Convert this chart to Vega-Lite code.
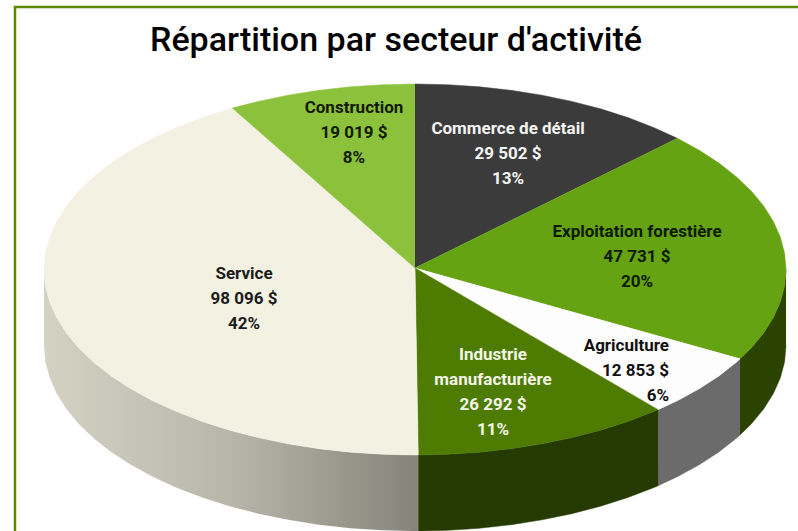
{"$schema":"https://vega.github.io/schema/vega-lite/v6.json","width":798,"height":531,"padding":0,"autosize":{"type":"none"},"background":"white","config":{"view":{"stroke":null}},
"title":{"text":"Répartition par secteur d'activité","font":"Roboto","fontSize":34,"fontWeight":500,"color":"#000000","anchor":"start","frame":"group","dx":150,"dy":85,"baseline":"alphabetic","offset":0},
"datasets":{
"tops":[
{"sector":"Commerce de détail","k":0,"u":0,"v":0.008},{"sector":"Commerce de détail","k":1,"u":0,"v":1},{"sector":"Commerce de détail","k":2,"u":0.0872,"v":0.9962},{"sector":"Commerce de détail","k":3,"u":0.1736,"v":0.9848},{"sector":"Commerce de détail","k":4,"u":0.2588,"v":0.9659},{"sector":"Commerce de détail","k":5,"u":0.342,"v":0.9397},{"sector":"Commerce de détail","k":6,"u":0.4226,"v":0.9063},{"sector":"Commerce de détail","k":7,"u":0.5,"v":0.866},{"sector":"Commerce de détail","k":8,"u":0.5736,"v":0.8192},{"sector":"Commerce de détail","k":9,"u":0.6428,"v":0.766},{"sector":"Commerce de détail","k":10,"u":0.7071,"v":0.7071},
{"sector":"Exploitation forestière","k":0,"u":0,"v":0.008},{"sector":"Exploitation forestière","k":1,"u":0.7071,"v":0.7071},{"sector":"Exploitation forestière","k":2,"u":0.766,"v":0.6428},{"sector":"Exploitation forestière","k":3,"u":0.8192,"v":0.5736},{"sector":"Exploitation forestière","k":4,"u":0.866,"v":0.5},{"sector":"Exploitation forestière","k":5,"u":0.9063,"v":0.4226},{"sector":"Exploitation forestière","k":6,"u":0.9397,"v":0.342},{"sector":"Exploitation forestière","k":7,"u":0.9659,"v":0.2588},{"sector":"Exploitation forestière","k":8,"u":0.9848,"v":0.1736},{"sector":"Exploitation forestière","k":9,"u":0.9962,"v":0.0872},{"sector":"Exploitation forestière","k":10,"u":1,"v":0},{"sector":"Exploitation forestière","k":11,"u":0.9962,"v":-0.0872},{"sector":"Exploitation forestière","k":12,"u":0.9848,"v":-0.1736},{"sector":"Exploitation forestière","k":13,"u":0.9659,"v":-0.2588},{"sector":"Exploitation forestière","k":14,"u":0.9397,"v":-0.342},{"sector":"Exploitation forestière","k":15,"u":0.9063,"v":-0.4226},{"sector":"Exploitation forestière","k":16,"u":0.876,"v":-0.4818},
{"sector":"Agriculture","k":0,"u":0,"v":0.008},{"sector":"Agriculture","k":1,"u":0.876,"v":-0.4818},{"sector":"Agriculture","k":2,"u":0.866,"v":-0.5},{"sector":"Agriculture","k":3,"u":0.8192,"v":-0.5736},{"sector":"Agriculture","k":4,"u":0.766,"v":-0.6428},{"sector":"Agriculture","k":5,"u":0.7071,"v":-0.7071},{"sector":"Agriculture","k":6,"u":0.655,"v":-0.7556},
{"sector":"Industrie manufacturière","k":0,"u":0,"v":0.008},{"sector":"Industrie manufacturière","k":1,"u":0.655,"v":-0.7556},{"sector":"Industrie manufacturière","k":2,"u":0.6428,"v":-0.766},{"sector":"Industrie manufacturière","k":3,"u":0.5736,"v":-0.8192},{"sector":"Industrie manufacturière","k":4,"u":0.5,"v":-0.866},{"sector":"Industrie manufacturière","k":5,"u":0.4226,"v":-0.9063},{"sector":"Industrie manufacturière","k":6,"u":0.342,"v":-0.9397},{"sector":"Industrie manufacturière","k":7,"u":0.2588,"v":-0.9659},{"sector":"Industrie manufacturière","k":8,"u":0.1736,"v":-0.9848},{"sector":"Industrie manufacturière","k":9,"u":0.0872,"v":-0.9962},{"sector":"Industrie manufacturière","k":10,"u":0.0087,"v":-1},
{"sector":"Service","k":0,"u":0,"v":0.008},{"sector":"Service","k":1,"u":0.0087,"v":-1},{"sector":"Service","k":2,"u":0,"v":-1},{"sector":"Service","k":3,"u":-0.0872,"v":-0.9962},{"sector":"Service","k":4,"u":-0.1736,"v":-0.9848},{"sector":"Service","k":5,"u":-0.2588,"v":-0.9659},{"sector":"Service","k":6,"u":-0.342,"v":-0.9397},{"sector":"Service","k":7,"u":-0.4226,"v":-0.9063},{"sector":"Service","k":8,"u":-0.5,"v":-0.866},{"sector":"Service","k":9,"u":-0.5736,"v":-0.8192},{"sector":"Service","k":10,"u":-0.6428,"v":-0.766},{"sector":"Service","k":11,"u":-0.7071,"v":-0.7071},{"sector":"Service","k":12,"u":-0.766,"v":-0.6428},{"sector":"Service","k":13,"u":-0.8192,"v":-0.5736},{"sector":"Service","k":14,"u":-0.866,"v":-0.5},{"sector":"Service","k":15,"u":-0.9063,"v":-0.4226},{"sector":"Service","k":16,"u":-0.9397,"v":-0.342},{"sector":"Service","k":17,"u":-0.9659,"v":-0.2588},{"sector":"Service","k":18,"u":-0.9848,"v":-0.1736},{"sector":"Service","k":19,"u":-0.9962,"v":-0.0872},{"sector":"Service","k":20,"u":-1,"v":0},{"sector":"Service","k":21,"u":-0.9962,"v":0.0872},{"sector":"Service","k":22,"u":-0.9848,"v":0.1736},{"sector":"Service","k":23,"u":-0.9659,"v":0.2588},{"sector":"Service","k":24,"u":-0.9397,"v":0.342},{"sector":"Service","k":25,"u":-0.9063,"v":0.4226},{"sector":"Service","k":26,"u":-0.866,"v":0.5},{"sector":"Service","k":27,"u":-0.8192,"v":0.5736},{"sector":"Service","k":28,"u":-0.766,"v":0.6428},{"sector":"Service","k":29,"u":-0.7071,"v":0.7071},{"sector":"Service","k":30,"u":-0.6428,"v":0.766},{"sector":"Service","k":31,"u":-0.5736,"v":0.8192},{"sector":"Service","k":32,"u":-0.5,"v":0.866},{"sector":"Service","k":33,"u":-0.4924,"v":0.8704},
{"sector":"Construction","k":0,"u":0,"v":0.008},{"sector":"Construction","k":1,"u":-0.4924,"v":0.8704},{"sector":"Construction","k":2,"u":-0.4226,"v":0.9063},{"sector":"Construction","k":3,"u":-0.342,"v":0.9397},{"sector":"Construction","k":4,"u":-0.2588,"v":0.9659},{"sector":"Construction","k":5,"u":-0.1736,"v":0.9848},{"sector":"Construction","k":6,"u":-0.0872,"v":0.9962},{"sector":"Construction","k":7,"u":0,"v":1}
],
"sides":[
{"sector":"Exploitation forestière","k":0,"u":1,"v":0},{"sector":"Exploitation forestière","k":1,"u":0.9962,"v":-0.0872},{"sector":"Exploitation forestière","k":2,"u":0.9848,"v":-0.1736},{"sector":"Exploitation forestière","k":3,"u":0.9659,"v":-0.2588},{"sector":"Exploitation forestière","k":4,"u":0.9397,"v":-0.342},{"sector":"Exploitation forestière","k":5,"u":0.9063,"v":-0.4226},{"sector":"Exploitation forestière","k":6,"u":0.876,"v":-0.4818},{"sector":"Exploitation forestière","k":7,"u":0.876,"v":-0.8918},{"sector":"Exploitation forestière","k":8,"u":0.9063,"v":-0.8326},{"sector":"Exploitation forestière","k":9,"u":0.9397,"v":-0.752},{"sector":"Exploitation forestière","k":10,"u":0.9659,"v":-0.6688},{"sector":"Exploitation forestière","k":11,"u":0.9848,"v":-0.5836},{"sector":"Exploitation forestière","k":12,"u":0.9962,"v":-0.4972},{"sector":"Exploitation forestière","k":13,"u":1,"v":-0.41},
{"sector":"Agriculture","k":0,"u":0.876,"v":-0.4818},{"sector":"Agriculture","k":1,"u":0.866,"v":-0.5},{"sector":"Agriculture","k":2,"u":0.8192,"v":-0.5736},{"sector":"Agriculture","k":3,"u":0.766,"v":-0.6428},{"sector":"Agriculture","k":4,"u":0.7071,"v":-0.7071},{"sector":"Agriculture","k":5,"u":0.655,"v":-0.7556},{"sector":"Agriculture","k":6,"u":0.655,"v":-1.1656},{"sector":"Agriculture","k":7,"u":0.7071,"v":-1.1171},{"sector":"Agriculture","k":8,"u":0.766,"v":-1.0528},{"sector":"Agriculture","k":9,"u":0.8192,"v":-0.9836},{"sector":"Agriculture","k":10,"u":0.866,"v":-0.91},{"sector":"Agriculture","k":11,"u":0.876,"v":-0.8918},
{"sector":"Industrie manufacturière","k":0,"u":0.655,"v":-0.7556},{"sector":"Industrie manufacturière","k":1,"u":0.6428,"v":-0.766},{"sector":"Industrie manufacturière","k":2,"u":0.5736,"v":-0.8192},{"sector":"Industrie manufacturière","k":3,"u":0.5,"v":-0.866},{"sector":"Industrie manufacturière","k":4,"u":0.4226,"v":-0.9063},{"sector":"Industrie manufacturière","k":5,"u":0.342,"v":-0.9397},{"sector":"Industrie manufacturière","k":6,"u":0.2588,"v":-0.9659},{"sector":"Industrie manufacturière","k":7,"u":0.1736,"v":-0.9848},{"sector":"Industrie manufacturière","k":8,"u":0.0872,"v":-0.9962},{"sector":"Industrie manufacturière","k":9,"u":0.0087,"v":-1},{"sector":"Industrie manufacturière","k":10,"u":0.0087,"v":-1.41},{"sector":"Industrie manufacturière","k":11,"u":0.0872,"v":-1.4062},{"sector":"Industrie manufacturière","k":12,"u":0.1736,"v":-1.3948},{"sector":"Industrie manufacturière","k":13,"u":0.2588,"v":-1.3759},{"sector":"Industrie manufacturière","k":14,"u":0.342,"v":-1.3497},{"sector":"Industrie manufacturière","k":15,"u":0.4226,"v":-1.3163},{"sector":"Industrie manufacturière","k":16,"u":0.5,"v":-1.276},{"sector":"Industrie manufacturière","k":17,"u":0.5736,"v":-1.2292},{"sector":"Industrie manufacturière","k":18,"u":0.6428,"v":-1.176},{"sector":"Industrie manufacturière","k":19,"u":0.655,"v":-1.1656}
],
"serviceSide":[
{"k":0,"u":0.0087,"v":-1},{"k":1,"u":0,"v":-1},{"k":2,"u":-0.0872,"v":-0.9962},{"k":3,"u":-0.1736,"v":-0.9848},{"k":4,"u":-0.2588,"v":-0.9659},{"k":5,"u":-0.342,"v":-0.9397},{"k":6,"u":-0.4226,"v":-0.9063},{"k":7,"u":-0.5,"v":-0.866},{"k":8,"u":-0.5736,"v":-0.8192},{"k":9,"u":-0.6428,"v":-0.766},{"k":10,"u":-0.7071,"v":-0.7071},{"k":11,"u":-0.766,"v":-0.6428},{"k":12,"u":-0.8192,"v":-0.5736},{"k":13,"u":-0.866,"v":-0.5},{"k":14,"u":-0.9063,"v":-0.4226},{"k":15,"u":-0.9397,"v":-0.342},{"k":16,"u":-0.9659,"v":-0.2588},{"k":17,"u":-0.9848,"v":-0.1736},{"k":18,"u":-0.9962,"v":-0.0872},{"k":19,"u":-1,"v":0},{"k":20,"u":-1,"v":-0.41},{"k":21,"u":-0.9962,"v":-0.4972},{"k":22,"u":-0.9848,"v":-0.5836},{"k":23,"u":-0.9659,"v":-0.6688},{"k":24,"u":-0.9397,"v":-0.752},{"k":25,"u":-0.9063,"v":-0.8326},{"k":26,"u":-0.866,"v":-0.91},{"k":27,"u":-0.8192,"v":-0.9836},{"k":28,"u":-0.766,"v":-1.0528},{"k":29,"u":-0.7071,"v":-1.1171},{"k":30,"u":-0.6428,"v":-1.176},{"k":31,"u":-0.5736,"v":-1.2292},{"k":32,"u":-0.5,"v":-1.276},{"k":33,"u":-0.4226,"v":-1.3163},{"k":34,"u":-0.342,"v":-1.3497},{"k":35,"u":-0.2588,"v":-1.3759},{"k":36,"u":-0.1736,"v":-1.3948},{"k":37,"u":-0.0872,"v":-1.4062},{"k":38,"u":0,"v":-1.41},{"k":39,"u":0.0087,"v":-1.41}
],
"labels":[
{"sector":"Construction","amount":19019,"pct":8,"label":"Construction\n19 019 $\n8%","u":-0.1644,"v":0.8706},
{"sector":"Commerce de détail","amount":29502,"pct":13,"label":"Commerce de détail\n29 502 $\n13%","u":0.2507,"v":0.7574},
{"sector":"Exploitation forestière","amount":47731,"pct":20,"label":"Exploitation forestière\n47 731 $\n20%","u":0.5984,"v":0.2022},
{"sector":"Service","amount":98096,"pct":42,"label":"Service\n98 096 $\n42%","u":-0.4609,"v":-0.0243},
{"sector":"Industrie manufacturière","amount":26292,"pct":11,"label":"Industrie\nmanufacturière\n26 292 $\n11%","u":0.2102,"v":-0.4609},
{"sector":"Agriculture","amount":12853,"pct":6,"label":"Agriculture\n12 853 $\n6%","u":0.6846,"v":-0.4124}
]
},
"layer":[
{"data":{"name":"sides"},"mark":{"type":"line","filled":true,"clip":true,"strokeWidth":0.5},
"encoding":{"x":{"field":"u","type":"quantitative","scale":{"domain":[-1.1186,1.0323],"nice":false,"zero":false},"axis":null},"y":{"field":"v","type":"quantitative","scale":{"domain":[-1.4097,1.4528],"nice":false,"zero":false},"axis":null},"order":{"field":"k"},
"fill":{"field":"sector","type":"nominal","legend":null,"scale":{"domain":["Exploitation forestière","Agriculture","Industrie manufacturière"],"range":["#2a4400","#6b6b6b","#243a00"]}},"stroke":{"field":"sector","type":"nominal","legend":null,"scale":{"domain":["Exploitation forestière","Agriculture","Industrie manufacturière"],"range":["#2a4400","#6b6b6b","#243a00"]}}}},
{"data":{"name":"serviceSide"},"mark":{"type":"line","filled":true,"clip":true,"stroke":null,"fill":{"x1":0,"y1":0,"x2":1,"y2":0,"gradient":"linear","stops":[{"offset":0,"color":"#d3d2c3"},{"offset":0.5,"color":"#b8b6a9"},{"offset":1,"color":"#85847a"}]}},
"encoding":{"x":{"field":"u","type":"quantitative"},"y":{"field":"v","type":"quantitative"},"order":{"field":"k"}}},
{"data":{"name":"tops"},"mark":{"type":"line","filled":true,"clip":true,"strokeWidth":0.5},
"encoding":{"x":{"field":"u","type":"quantitative"},"y":{"field":"v","type":"quantitative"},"order":{"field":"k"},
"fill":{"field":"sector","type":"nominal","legend":null,"scale":{"domain":["Commerce de détail","Exploitation forestière","Agriculture","Industrie manufacturière","Service","Construction"],"range":["#3b3b3b","#65a312","#fdfdfd","#4e7c02","#f3f1e2","#8cc13c"]}},"stroke":{"field":"sector","type":"nominal","legend":null,"scale":{"domain":["Commerce de détail","Exploitation forestière","Agriculture","Industrie manufacturière","Service","Construction"],"range":["#3b3b3b","#65a312","#fdfdfd","#4e7c02","#f3f1e2","#8cc13c"]}}}},
{"data":{"name":"labels"},"transform":[{"filter":"datum.sector !== 'Agriculture'"}],"mark":{"type":"text","font":"Roboto","fontSize":17,"fontWeight":700,"lineBreak":"\n","lineHeight":25,"align":"center","baseline":"middle"},
"encoding":{"x":{"field":"u","type":"quantitative"},"y":{"field":"v","type":"quantitative"},"text":{"field":"label"},
"color":{"field":"sector","type":"nominal","legend":null,"scale":{"domain":["Commerce de détail","Exploitation forestière","Industrie manufacturière","Service","Construction"],"range":["#f4f4f4","#0d1a00","#f4f6ea","#1c1c1c","#111a00"]}}}},
{"data":{"name":"labels"},"transform":[{"filter":"datum.sector === 'Agriculture'"}],"mark":{"type":"text","font":"Roboto","fontSize":17,"fontWeight":700,"lineBreak":"\n","lineHeight":25,"align":"right","baseline":"middle","color":"#111111"},
"encoding":{"x":{"field":"u","type":"quantitative"},"y":{"field":"v","type":"quantitative"},"text":{"field":"label"}}},
{"data":{"values":[{"left":-1.0782,"right":1.2,"top":1.4151,"bottom":-1.7}]},"mark":{"type":"rect","clip":true,"fill":null,"stroke":"#5a8a00","strokeWidth":2.5},
"encoding":{"x":{"field":"left","type":"quantitative"},"x2":{"field":"right"},"y":{"field":"top","type":"quantitative"},"y2":{"field":"bottom"}}}
],
"resolve":{"scale":{"fill":"independent","stroke":"independent","color":"independent"}}}
